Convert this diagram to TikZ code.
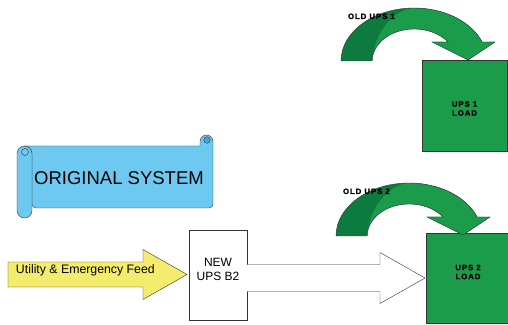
\documentclass[tikz,border=0pt]{standalone}
\usepackage{fontspec}
\setmainfont{Liberation Sans}
\newfontfamily\tagfont[LetterSpace=12, BoldFont={Liberation Sans Bold}, BoldFeatures={FakeBold=1.2}]{Liberation Sans}
\usetikzlibrary{calc}
\definecolor{scrollblue}{HTML}{6EC9F1}
\definecolor{curlblue}{HTML}{4BA3D6}
\definecolor{feedyellow}{HTML}{F4EC6C}
\definecolor{darkgreen}{HTML}{0E7B3E}
\definecolor{lightgreen}{HTML}{1A9C4A}
\definecolor{edgegray}{HTML}{333333}
% curved arrow over a load box: #1 ellipse centre, #2 label name, #3 label text
\newcommand\DrawCurvedArrow[3]{%
    \begin{scope}[shift={(#1)}]
        \path[dark arrow] (-\Ro,0)
            arc[start angle=180,end angle=21,x radius=\Ro,y radius=\Rv]
            -- (81,19) -- (54,1) -- (18,19) -- (34,19)
            arc[start angle=36.4,end angle=180,x radius=\Ri,y radius=\Rw] -- cycle;
        % lighter upper side of the band
        \fill[lightgreen] (-2.5,53)
            arc[start angle=92,end angle=21,x radius=\Ro,y radius=\Rv]
            -- (81,19) -- (54,1) -- (18,19) -- (34,19)
            arc[start angle=36.4,end angle=180,x radius=\Ri,y radius=\Rw]
            .. controls (-40,25) and (-25,48) .. (-2.5,53) -- cycle;
        \draw[edgegray, thin] (-\Ro,0)
            arc[start angle=180,end angle=21,x radius=\Ro,y radius=\Rv]
            -- (81,19) -- (54,1) -- (18,19) -- (34,19)
            arc[start angle=36.4,end angle=180,x radius=\Ri,y radius=\Rw] -- cycle;
        \node[tag, anchor=base west] (#2) at (-66,42) {#3};
    \end{scope}
}

\begin{document}
\begin{tikzpicture}[x=1pt, y=1pt,
        inner sep=0pt,
        outer sep=0pt,
        dark arrow/.style={fill=darkgreen},
        tag/.style={font=\tagfont\bfseries\fontsize{7.8}{9}\selectfont, align=center},
        load box/.style={draw=edgegray, fill=lightgreen, thin},
        ups box/.style={draw=edgegray, fill=white, thin},
        block arrow/.style={draw=edgegray, thin, line join=miter}
    ]
    \useasboundingbox (0,0) rectangle (508,324);
    %% some definitions
    \def\Ro{73}  % outer x radius of curved arrow
    \def\Rv{53}  % outer y radius
    \def\Ri{42}  % inner x radius
    \def\Rw{32}  % inner y radius
    %
    % scroll
    \draw[edgegray, fill=scrollblue, thin] (24.5,178) -- (200,178) -- (200,182.5)
        arc[start angle=180,end angle=0,radius=6.5]
        [rounded corners=4] -- (213,116) -- (32,116) [sharp corners] -- (32,170) -- cycle;
    \draw[edgegray, fill=curlblue, thin] (207,184) circle (3.3);
    \draw[edgegray, fill=scrollblue, thin, rounded corners=7.5] (17,106) rectangle (32,178);
    \draw[edgegray, thin] (25,172) circle (3.5);
    \node[font=\fontsize{18.5}{22}\selectfont] (scroll) at (119,146) {ORIGINAL SYSTEM};
    %
    % boxes
    \node[load box, minimum width=85, minimum height=91] (load1) at (464.5,218.5) {};
    \node[load box, minimum width=86, minimum height=90] (load2) at (469,46) {};
    \node[ups box, minimum width=58, minimum height=90] (newups) at (218,49) {};
    \node[tag] (load1text) at ($(load1.center)+(0,-3)$) {UPS 1\\LOAD};
    \node[tag] (load2text) at ($(load2.center)+(-1,6)$) {UPS 2\\LOAD};
    \node[font=\fontsize{12}{14}\selectfont, align=center] (newupstext)
        at ($(newups.center)+(0,6)$) {NEW\\UPS B2};
    %
    % feed arrow into the new UPS
    \coordinate (feedtip) at ($(newups.west)+(-2,0.5)$);
    \draw[block arrow, fill=feedyellow] (8,37) -- (143,37) -- (143,24.5) -- (feedtip)
        -- (143,74.5) -- (143,62) -- (8,62) -- cycle;
    \node[font=\fontsize{12.3}{14}\selectfont, anchor=west] (feed) at (16,54) {Utility \& Emergency Feed};
    %
    % output arrow to the load
    \coordinate (outtip) at ($(load2.west)+(-1,0)$);
    \draw[block arrow, fill=white] (newups.east |- 0,32.5) -- (380,32.5) -- (380,20.5) -- (outtip)
        -- (380,71.5) -- (380,59.5) -- (newups.east |- 0,59.5);
    %
    % old UPS arrows
    \DrawCurvedArrow{414,263}{old1}{OLD UPS 1}
    \DrawCurvedArrow{409,88}{old2}{OLD UPS 2}
\end{tikzpicture}
\end{document}
